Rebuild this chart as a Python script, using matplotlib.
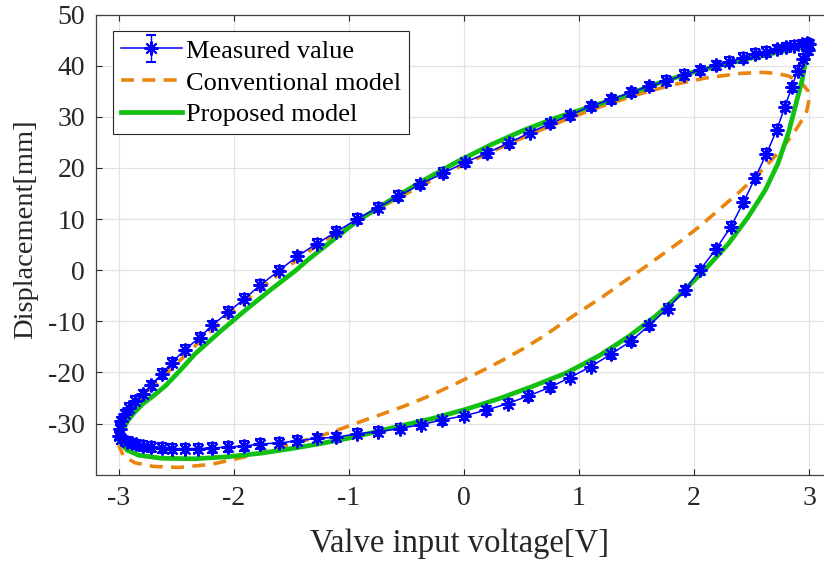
import matplotlib.pyplot as plt

# Times-like look of the original figure
plt.rcParams["font.family"] = "Liberation Serif"
plt.rcParams["axes.unicode_minus"] = False

meas_x = [-3.00, -2.99, -2.98, -2.95, -2.91, -2.86, -2.79, -2.72, -2.63, -2.54,
          -2.43, -2.30, -2.19, -2.05, -1.91, -1.77, -1.61, -1.45, -1.28, -1.11,
          -0.93, -0.75, -0.57, -0.38, -0.18, 0.01, 0.20, 0.39, 0.57, 0.75,
          0.92, 1.10, 1.28, 1.45, 1.61, 1.76, 1.91, 2.05, 2.19, 2.30,
          2.43, 2.53, 2.63, 2.72, 2.80, 2.87, 2.94, 2.98, 3.00,
          2.99, 2.95, 2.90, 2.85, 2.79, 2.72, 2.63, 2.53, 2.43, 2.32,
          2.19, 2.05, 1.92, 1.77, 1.61, 1.45, 1.28, 1.10, 0.92, 0.75,
          0.56, 0.38, 0.19, 0.00, -0.19, -0.37, -0.56, -0.75, -0.93, -1.11,
          -1.28, -1.45, -1.61, -1.77, -1.91, -2.05, -2.19, -2.31, -2.43, -2.54,
          -2.63, -2.72, -2.79, -2.85, -2.89, -2.93, -2.98]
meas_y = [-32.4, -31.0, -29.6, -28.2, -26.9, -25.6, -24.3, -22.5, -20.3, -18.1,
          -15.6, -13.2, -10.8, -8.2, -5.6, -2.9, -0.1, 2.7, 5.2, 7.5,
          10.0, 12.2, 14.5, 16.8, 19.0, 21.1, 22.9, 24.9, 26.9, 28.7,
          30.3, 32.1, 33.4, 34.8, 36.0, 37.0, 38.2, 39.1, 40.1, 40.8,
          41.5, 42.3, 42.7, 43.2, 43.6, 43.9, 44.2, 44.4, 44.2,
          43.0, 41.4, 39.0, 35.8, 32.0, 27.5, 22.8, 18.0, 13.3, 8.5,
          4.1, 0.0, -3.9, -7.5, -10.8, -13.9, -16.4, -18.9, -21.0, -22.9,
          -24.6, -26.1, -27.4, -28.5, -29.3, -30.2, -31.0, -31.6, -32.0, -32.7,
          -32.9, -33.4, -33.8, -34.0, -34.4, -34.6, -34.8, -34.9, -34.9, -34.9,
          -34.8, -34.6, -34.4, -34.1, -33.9, -33.6, -33.1]
meas_err = 0.9

# Conventional model loop
conv_x = [-3.00, -2.99, -2.97, -2.93, -2.87, -2.78, -2.65, -2.50, -2.30, -2.10,
          -1.90, -1.70, -1.50, -1.25, -1.00, -0.75, -0.50, -0.25, 0.00, 0.30,
          0.60, 0.90, 1.20, 1.50, 1.80, 2.10, 2.40, 2.60, 2.72, 2.82,
          2.93, 2.99, 3.00, 2.98, 2.94, 2.86, 2.77, 2.68, 2.55, 2.40,
          2.22, 2.05, 1.88, 1.72, 1.56, 1.38, 1.20, 1.02, 0.86, 0.70,
          0.52, 0.32, 0.12, -0.08, -0.30, -0.52, -0.73, -0.92, -1.10, -1.30,
          -1.50, -1.70, -1.92, -2.20, -2.48, -2.70, -2.86, -2.96, -3.00]
conv_y = [-34.4, -32.5, -30.5, -28.3, -26.3, -24.3, -21.6, -18.3, -14.0, -9.9,
          -6.0, -2.4, 1.2, 5.3, 8.7, 12.0, 15.0, 17.9, 20.7, 23.8,
          26.8, 29.6, 32.1, 34.3, 36.2, 37.6, 38.5, 38.7, 38.5, 38.0,
          36.8, 35.1, 33.3, 31.2, 29.4, 26.6, 24.0, 21.7, 18.6, 15.4,
          11.9, 8.6, 5.6, 3.0, 0.4, -2.4, -5.3, -7.9, -10.3, -12.8,
          -15.3, -17.8, -20.1, -22.3, -24.6, -26.6, -28.3, -29.8, -31.3, -32.8,
          -34.0, -35.3, -36.6, -38.0, -38.6, -38.4, -37.7, -36.4, -34.4]

# Proposed model loop
prop_x = [-2.99, -2.98, -2.96, -2.92, -2.86, -2.79, -2.69, -2.59, -2.46, -2.34,
          -2.12, -1.90, -1.68, -1.46, -1.37, -1.14, -0.93, -0.64, -0.35, -0.06,
          0.23, 0.52, 0.80, 1.10, 1.37, 1.65, 1.95, 2.25, 2.53, 2.80,
          2.99, 2.97, 2.94, 2.88, 2.82, 2.73, 2.62, 2.47, 2.30, 2.09,
          1.89, 1.66, 1.43, 1.17, 0.89, 0.60, 0.31, 0.02, -0.27, -0.56,
          -0.80, -1.01, -1.24, -1.47, -1.76, -2.05, -2.34, -2.63, -2.83, -2.93,
          -2.98, -2.99]
prop_y = [-33.3, -32.4, -31.0, -29.3, -27.7, -26.1, -24.4, -22.5, -19.4, -16.4,
          -12.0, -7.8, -3.8, 0.0, 1.8, 5.9, 9.6, 13.7, 17.6, 21.2,
          24.5, 27.4, 29.8, 32.0, 33.9, 36.3, 38.5, 40.2, 41.7, 43.0,
          43.9, 41.0, 37.2, 32.0, 26.8, 20.9, 15.7, 10.4, 5.2, 0.0,
          -4.5, -9.1, -13.0, -16.8, -20.1, -22.7, -25.1, -27.2, -29.0, -30.5,
          -31.8, -32.9, -33.9, -34.8, -35.8, -36.5, -36.9, -36.8, -36.2, -35.2,
          -33.9, -33.3]

fig = plt.figure(figsize=(8.24, 5.63), dpi=100)
ax = fig.add_axes([0.1165, 0.157, 0.8835, 0.817])

ax.errorbar(meas_x, meas_y, yerr=meas_err, color='#0000FF', lw=1.1,
            marker=(8, 2, 0), ms=10, mew=1.5, capsize=3.5, elinewidth=1.0,
            label='Measured value')
ax.plot(conv_x, conv_y, color='#E8860F', lw=2.6, ls=(0, (3.6, 2.3)),
        label='Conventional model')
ax.plot(prop_x, prop_y, color='#11C011', lw=3.4, label='Proposed model')

ax.set_xlim(-3.2, 3.13)
ax.set_ylim(-40, 50)
ax.set_xticks(range(-3, 4))
ax.set_yticks(range(-30, 51, 10))
ax.grid(True, color='#E2E2E2', lw=0.9)
ax.set_axisbelow(True)

ax.tick_params(direction='in', length=4, width=0.8, top=True, right=False,
               labelsize=20, colors='#262626', pad=8)
ax.spines['right'].set_visible(False)
for s in ['left', 'top', 'bottom']:
    ax.spines[s].set_color('#404040')
    ax.spines[s].set_linewidth(0.9)

ax.set_xlabel('Valve input voltage[V]', fontsize=23.5, color='#262626', labelpad=13)
ax.set_ylabel('Displacement[mm]', fontsize=20.5, color='#262626')
ax.yaxis.set_label_coords(-0.08, 0.534)

# Measured value first in the legend, as in the original
h, l = ax.get_legend_handles_labels()
order = [l.index('Measured value'), l.index('Conventional model'), l.index('Proposed model')]
leg = ax.legend([h[i] for i in order], [l[i] for i in order],
                loc='upper left', bbox_to_anchor=(0.0234, 0.964), borderaxespad=0,
                fontsize=19, fancybox=False, edgecolor='#262626', framealpha=1,
                handlelength=2.3, handletextpad=0.15, labelspacing=0.32,
                borderpad=0.3)
leg.get_frame().set_linewidth(0.8)

fig.savefig('out.png', dpi=100)
